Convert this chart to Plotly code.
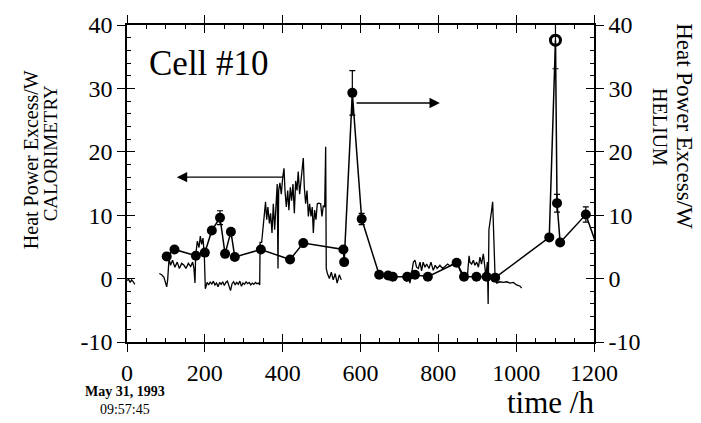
import plotly.graph_objects as go

# ---- Calorimetry trace (left axis), time in h, excess power in W ----
cal_t = [0, 4, 8, 12, 16, 20, None,
         83, 89, 95, 98.5, 102, 104.5, 108, 112, 117, 123, 129, 134.5, 140.5, 146.5, 151.5,
         157.6, 163.6, 168.7, 172, 174.7, 176.4, 180.7, 185, 188.4, 191.8, 195.3, 198.7, 201.3,
         206, 210, 214, 218, 222, 226, 230, 234, 238, 242, 246, 250, 254, 258, 262, 266, 270,
         274, 278, 282, 286, 290, 294, 298, 302, 306, 310, 314, 318, 322, 326, 330, 334, 338, 341,
         342, 346, 350, 354, 356, 359, 362, 366, 369, 372.6, 376, 379.4, 383, 386, 388, 389.7,
         393, 396.5, 400, 403.4, 406, 409.4, 413, 416, 419.7, 423, 426.5, 430, 433.4, 436.8,
         440, 443.6, 447, 450.5, 453, 455.6, 459, 462.5, 466, 469.3, 472.8, 476, 478.8, 482,
         485.6, 489, 493, 497.6, 501, 504.5, 508, 510.5, 512, 515, 520, 525, 530, 535, 540,
         545.6, 550.7, None,
         717, 723, 727, 731.5, 736, 740, 744, 748.6, 753, 757, 761, 765.7, 770, 776, 781, 787,
         792, 797, 804, 811, 817, 824, 830, 838.5, 847, 855.6, 862.5, 868.5, 874.5, 879, 881,
         885.6, 890, 894, 898.5, 903, 907, 911, 915.6, 920, 922, 926, 928, 930, 932.7, 937,
         939.6, 941.3, 943, 945.6, 950, 958.4, 967, 975.6, 984, 992.7, 1001, 1010, 1014]
cal_p = [-0.3, -0.1, -0.6, -0.2, -0.5, -0.9, None,
         0.8, 0.6, 0.2, -0.5, -1.3, -0.2, 3.2, 2.1, 2.9, 1.8, 2.6, 1.6, 2.4, 2.1, 1.6,
         2.4, 1.9, 2.6, 1.6, -0.7, 3.6, 5.9, 4.9, 6.7, 5.4, 6.4, 3.6, -1.6,
         -0.6, -1.0, -0.5, -0.9, -0.4, -1.0, -0.7, -1.3, -0.6, -0.9, -0.5, -1.1, -0.6, -0.4, -1.0, -1.9, -0.8,
         -0.5, -1.0, -0.6, -0.9, -0.4, -1.2, -0.7, -0.9, -0.5, -0.8, -0.6, -1.0, -0.7, -0.9, -0.6, -0.8, -0.7, -1.0,
         5.7, 5.7, 8.2, 9.8, 12.1, 9.3, 11.3, 8.7, 10.3, 7.2, 11.8, 7.7, 12.3, 14.9, 1.6, 13.9,
         15.1, 13.3, 15.9, 17.4, 13.9, 11.3, 13.9, 10.8, 14.4, 12.3, 14.9, 10.3, 15.4, 13.9,
         16.9, 13.3, 15.4, 18.5, 19.0, 14.4, 11.8, 13.9, 9.8, 11.8, 9.8, 11.3, 7.2, 10.8,
         9.3, 11.8, 11.9, 11.8, 9.8, 11.5, 11.3, 20.8, 1.6, 0.8, 0.0, 1.0, -0.2, 0.8, -0.7,
         0.6, -0.2, None,
         -0.5, 0.6, -0.7, 1.3, 2.6, 2.9, 1.8, 1.6, 2.6, 1.2, 2.6, 1.8, 2.3, 1.6, 2.6, 1.3,
         2.1, 1.6, 2.1, 1.6, 2.0, 2.3, 2.0, 2.3, 2.6, 1.3, 0.3, 0.6, 0.3, 3.6, 2.6,
         2.3, 2.9, 2.1, 2.6, 1.8, 3.4, 2.3, 3.9, 1.6, 0.3, 2.6, -4.0, 7.7, 9.3, 10.8,
         12.1, 8.7, 4.7, 0.6, -0.7, -0.5, -0.6, -0.5, -0.7, -0.6, -1.0, -1.2, -1.5]

# ---- Helium measurements (right axis) ----
he_t = [102, 122, 177, 200, 218, 239, 252, 267, 277, 344, 419, 453, 556, 558, 579, 603,
        648, 671, 683, 720, 740, 773, 847, 866, 898, 924, 946, 1085, 1101, 1105, 1113, 1179, 1215]
he_p = [3.5, 4.6, 3.6, 4.1, 7.6, 9.6, 3.9, 7.4, 3.4, 4.6, 3.0, 5.6, 4.6, 2.6, 29.3, 9.4,
        0.6, 0.5, 0.3, 0.3, 0.6, 0.3, 2.5, 0.3, 0.3, 0.3, 0.15, 6.5, 37.6, 11.9, 5.7, 10.1, 3.8]
he_err = [0, 0, 0, 0, 0, 1.1, 0, 0, 0, 0, 0, 0, 0, 0, 3.5, 0.9,
          0, 0, 0, 0, 0, 0, 0, 0, 0, 0, 0, 0, 4.5, 1.4, 0, 1.2, 0]

x_ticks = [0, 200, 400, 600, 800, 1000, 1200]
x_labels = ["0", "200", "400", "600", "800", "1000", "1200"]
y_ticks = [-10, 0, 10, 20, 30, 40]
y_labels = ["-10", "0", "10", "20", "30", "40"]
x_range = [0, 1200]
y_range = [-10, 40]

SERIF = "Liberation Serif"
BLACK = "black"

symbols = ["circle-open" if p == max(he_p) else "circle" for p in he_p]
mlw = [3 if s == "circle-open" else 0 for s in symbols]

fig = go.Figure()
fig.add_trace(go.Scatter(x=cal_t, y=cal_p, mode="lines", connectgaps=False,
                         line=dict(color=BLACK, width=1.3), xaxis="x", yaxis="y",
                         showlegend=False, hoverinfo="skip"))
fig.add_trace(go.Scatter(x=he_t, y=he_p, mode="lines+markers",
                         line=dict(color=BLACK, width=1.5),
                         marker=dict(color=BLACK, size=10, symbol=symbols,
                                     line=dict(color=BLACK, width=mlw)),
                         error_y=dict(type="data", array=he_err, visible=True,
                                      color=BLACK, thickness=1.2, width=3),
                         xaxis="x", yaxis="y2", showlegend=False))
fig.add_trace(go.Scatter(x=[None], y=[None], xaxis="x2", yaxis="y3",
                         showlegend=False, hoverinfo="skip"))

axis_common = dict(showgrid=False, zeroline=False, showline=True,
                   linecolor=BLACK, linewidth=1.5, tickcolor=BLACK, tickwidth=1.3)
tickfont = dict(family=SERIF, size=24, color=BLACK)

fig.update_layout(
    width=701, height=423,
    margin=dict(l=127, r=107, t=16, b=81),
    paper_bgcolor="white", plot_bgcolor="white",
    font=dict(family=SERIF, color=BLACK),
    xaxis=dict(range=x_range, tickvals=x_ticks, ticktext=x_labels, ticks="outside",
               ticklen=8, mirror="ticks", tickfont=tickfont, **axis_common),
    xaxis2=dict(range=x_range, overlaying="x", tickvals=x_ticks, ticks="inside",
                ticklen=8, mirror="ticks", showticklabels=False,
                minor=dict(dtick=50, ticks="inside", ticklen=4, tickcolor=BLACK, tickwidth=1),
                **axis_common),
    yaxis=dict(range=y_range, tickvals=y_ticks, ticktext=y_labels, ticks="outside",
               ticklen=8, mirror="ticks", tickfont=tickfont, **axis_common),
    yaxis2=dict(range=y_range, overlaying="y", side="right", tickvals=y_ticks,
                ticktext=y_labels, ticks="outside", ticklen=8, tickfont=tickfont,
                **axis_common),
    yaxis3=dict(range=y_range, overlaying="y", tickvals=y_ticks, ticks="inside",
                ticklen=8, mirror="ticks", showticklabels=False,
                minor=dict(dtick=2, ticks="inside", ticklen=4, tickcolor=BLACK, tickwidth=1),
                **axis_common),
)

ann = []
# arrows
ann.append(dict(x=128, y=16.0, ax=406, ay=16.0, xref="x", yref="y", axref="x", ayref="y",
                text="", showarrow=True, arrowhead=2, arrowsize=1.6, arrowwidth=1.3,
                arrowcolor=BLACK))
ann.append(dict(x=804, y=27.7, ax=586, ay=27.7, xref="x", yref="y", axref="x", ayref="y",
                text="", showarrow=True, arrowhead=2, arrowsize=1.6, arrowwidth=1.3,
                arrowcolor=BLACK))
# texts
ann.append(dict(x=52, y=34, xref="x", yref="y", text="Cell #10", showarrow=False,
                xanchor="left", yanchor="middle", font=dict(family=SERIF, size=35, color=BLACK)))
ann.append(dict(x=(31 - 127) / 467, y=(342 - 155) / 326, xref="paper", yref="paper",
                text="Heat Power Excess/W", showarrow=False, textangle=-90,
                xanchor="center", yanchor="middle", font=dict(family=SERIF, size=20, color=BLACK)))
ann.append(dict(x=(50 - 127) / 467, y=(342 - 148) / 326, xref="paper", yref="paper",
                text="CALORIMETRY", showarrow=False, textangle=-90,
                xanchor="center", yanchor="middle", font=dict(family=SERIF, size=19, color=BLACK)))
ann.append(dict(x=(685 - 127) / 467, y=(342 - 120) / 326, xref="paper", yref="paper",
                text="Heat Power Excess/W", showarrow=False, textangle=90,
                xanchor="center", yanchor="middle", font=dict(family=SERIF, size=23, color=BLACK)))
ann.append(dict(x=(660 - 127) / 467, y=(342 - 121) / 326, xref="paper", yref="paper",
                text="HELIUM", showarrow=False, textangle=90,
                xanchor="center", yanchor="middle", font=dict(family=SERIF, size=20, color=BLACK)))
ann.append(dict(x=(550 - 127) / 467, y=(342 - 404) / 326, xref="paper", yref="paper",
                text="time /h", showarrow=False, xanchor="center", yanchor="middle",
                font=dict(family=SERIF, size=31, color=BLACK)))
ann.append(dict(x=(125 - 127) / 467, y=(342 - 402) / 326, xref="paper", yref="paper",
                text="<b>May 31, 1993</b><br>09:57:45", showarrow=False,
                xanchor="center", yanchor="middle", align="center",
                font=dict(family=SERIF, size=14, color=BLACK)))
fig.update_layout(annotations=ann)

fig.write_html("out.html", config={"displayModeBar": False},
               post_script="document.body.style.margin='0';")
